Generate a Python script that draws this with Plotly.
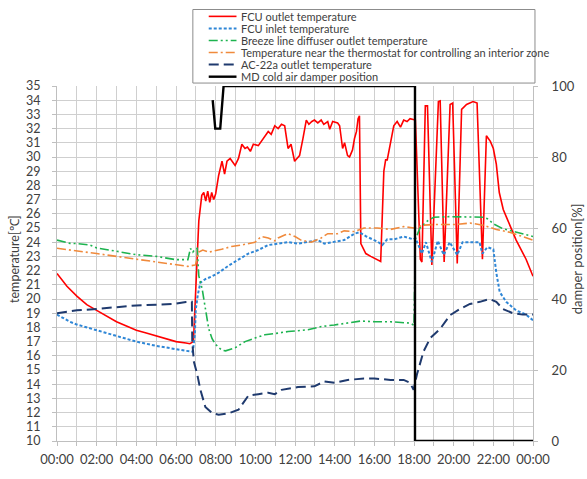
import plotly.graph_objects as go

# ---------------- data (hours since 00:00) ----------------
fcu_out_t = [0.0, 0.5, 1.0, 1.5, 2.0, 2.5, 3.0, 3.5, 4.0, 4.5, 5.0, 5.5, 6.0, 6.5, 6.7, 6.88,
             7.0, 7.15, 7.3, 7.4, 7.5, 7.6, 7.7, 7.8, 7.9, 8.0, 8.15, 8.32, 8.45, 8.57, 8.73,
             8.9, 8.98, 9.15, 9.32, 9.48, 9.6, 9.75, 9.9, 10.15, 10.3, 10.48, 10.65, 10.8,
             10.98, 11.15, 11.32, 11.48, 11.55, 11.65, 11.8, 11.98, 12.1, 12.23, 12.4, 12.57,
             12.7, 12.85, 12.98, 13.15, 13.32, 13.45, 13.65, 13.75, 13.9, 14.15, 14.25, 14.4,
             14.5, 14.65, 14.75, 14.9, 15.0, 15.1, 15.18, 15.25, 15.32, 15.57, 15.82, 16.07,
             16.32, 16.48, 16.57, 16.65, 16.82, 16.98, 17.15, 17.32, 17.48, 17.65, 17.8, 17.98,
             18.07, 18.32, 18.4, 18.57, 18.68, 18.9, 19.23, 19.32, 19.52, 19.82, 19.95, 20.18,
             20.4, 20.65, 20.98, 21.18, 21.45, 21.65, 21.85, 22.0, 22.15, 22.3, 22.5, 22.65,
             23.15, 23.65, 24.0]
fcu_out_v = [21.8, 20.9, 20.2, 19.6, 19.2, 18.8, 18.4, 18.1, 17.8, 17.6, 17.4, 17.2, 17.0, 16.9, 16.85, 17.0,
             21.0, 25.5, 27.3, 27.5, 26.9, 27.6, 26.8, 27.5, 27.0, 27.4, 28.7, 29.7, 28.8, 29.7, 29.9,
             29.6, 29.4, 29.9, 30.9, 30.6, 30.7, 30.4, 30.9, 30.8, 31.1, 31.4, 31.8, 31.6,
             32.2, 32.0, 32.3, 32.2, 31.5, 30.6, 30.9, 29.7, 29.9, 30.1, 31.3, 32.6,
             32.3, 32.5, 32.6, 32.4, 32.6, 32.3, 32.5, 31.95, 32.5, 32.4, 32.2, 30.6,
             31.0, 30.1, 30.0, 30.5, 31.3, 31.8, 32.7, 32.9, 23.9, 23.2, 23.0, 22.8,
             22.65, 29.0, 29.8, 29.8, 31.05, 32.2, 32.5, 32.1, 32.6, 32.5, 32.7, 32.6,
             32.6, 22.8, 22.6, 33.6, 33.6, 22.4, 33.9, 33.95, 22.6, 33.7, 33.8, 22.5,
             33.35, 33.7, 33.9, 33.8, 22.8, 31.5, 31.1, 30.6, 29.5, 27.5, 26.3, 25.8,
             24.15, 22.8, 21.6]

fcu_in_t = [0.0, 0.65, 1.0, 2.0, 3.0, 4.0, 5.0, 6.0, 6.5, 6.85, 6.95, 7.0, 7.1, 7.23, 7.48, 7.82,
            8.15, 8.65, 9.15, 9.65, 10.15, 10.65, 11.15, 11.65, 12.15, 12.65, 13.15, 13.48,
            13.98, 14.48, 15.0, 15.25, 15.6, 16.15, 16.4, 16.65, 17.0, 17.48, 17.98, 18.07,
            18.4, 18.6, 18.9, 19.2, 19.5, 19.8, 20.18, 20.45, 21.0, 21.3, 21.45, 21.7, 22.0,
            22.15, 22.32, 22.65, 23.15, 23.65, 24.0]
fcu_in_v = [18.9, 18.4, 18.2, 17.8, 17.4, 17.0, 16.7, 16.45, 16.35, 16.3, 17.5, 19.3, 20.3, 21.15, 21.4, 21.6,
            21.85, 22.35, 22.8, 23.2, 23.45, 23.8, 23.9, 24.0, 23.9, 24.0, 24.15, 23.9,
            24.0, 24.15, 24.6, 24.7, 24.4, 24.05, 23.8, 24.2, 24.2, 24.4, 24.2, 24.3,
            23.2, 24.0, 22.6, 24.1, 23.1, 24.0, 23.1, 24.0, 24.0, 24.0, 23.2, 23.65, 23.5,
            21.85, 20.5, 19.8, 19.2, 18.9, 18.5]

breeze_t = [0.0, 0.65, 1.0, 1.65, 2.0, 3.0, 4.0, 5.0, 6.0, 6.6, 6.73, 6.85, 6.95, 7.07, 7.15,
            7.32, 7.48, 7.65, 7.82, 8.0, 8.3, 8.5, 8.98, 9.48, 9.98, 10.48, 11.15, 11.65, 12.65,
            13.32, 13.98, 14.65, 15.32, 16.0, 16.8, 17.8, 18.0, 18.07, 18.3, 18.68, 19.0, 19.8,
            20.65, 21.48, 21.7, 22.0, 22.48, 23.15, 24.0]
breeze_v = [24.15, 23.92, 23.9, 23.8, 23.6, 23.35, 23.12, 23.0, 22.77, 22.77, 23.57, 23.3, 23.5, 23.57, 21.62,
            20.7, 19.3, 17.9, 17.2, 16.8, 16.4, 16.35, 16.56, 17.0, 17.25, 17.48, 17.6, 17.71, 17.83,
            18.06, 18.17, 18.29, 18.45, 18.4, 18.4, 18.3, 18.15, 24.2, 25.0, 25.5, 25.76, 25.8,
            25.76, 25.76, 25.65, 25.3, 24.95, 24.7, 24.4]

thermo_t = [0.0, 1.0, 2.0, 3.0, 4.0, 5.0, 6.0, 6.6, 6.98, 7.15, 7.35, 7.65, 8.3, 8.8, 9.3, 9.98,
            10.3, 10.65, 10.98, 11.15, 11.48, 11.65, 12.0, 12.3, 12.82, 13.32, 13.65, 14.15,
            14.48, 14.98, 15.48, 16.15, 16.82, 17.48, 17.98, 18.48, 19.15, 20.15, 20.82, 21.48,
            22.15, 22.82, 23.48, 24.0]
thermo_v = [23.57, 23.4, 23.2, 23.0, 22.8, 22.65, 22.4, 22.3, 22.4, 23.3, 23.45, 23.3, 23.5, 23.7, 23.8, 24.0,
            24.4, 24.3, 24.1, 24.3, 24.5, 24.6, 24.4, 24.15, 24.0, 24.3, 24.6, 24.6,
            24.8, 24.75, 25.0, 25.0, 24.9, 25.1, 25.0, 25.2, 25.25, 25.25, 25.35, 25.2,
            24.9, 24.7, 24.4, 24.15]

ac_t = [0.0, 0.65, 1.0, 2.0, 3.0, 4.0, 5.0, 6.0, 6.5, 6.8, 6.82, 6.9, 7.07, 7.23, 7.48, 7.82,
        8.15, 8.65, 9.15, 9.4, 9.65, 10.15, 10.65, 10.98, 11.32, 12.15, 12.98, 13.48, 14.0,
        14.65, 15.48, 16.0, 16.82, 17.48, 17.8, 17.98, 18.15, 18.48, 18.82, 19.32, 19.82,
        20.32, 20.82, 21.32, 21.82, 22.15, 22.48, 22.98, 23.48, 24.0]
ac_v = [19.0, 19.1, 19.2, 19.3, 19.45, 19.55, 19.6, 19.67, 19.78, 19.8, 17.0, 15.6, 14.7, 13.6, 12.4, 11.97,
        11.85, 11.95, 12.2, 12.7, 13.2, 13.3, 13.4, 13.3, 13.6, 13.8, 13.85, 14.2, 14.1,
        14.3, 14.4, 14.4, 14.3, 14.3, 14.1, 13.6, 14.7, 16.3, 17.25, 17.9, 18.86,
        19.3, 19.65, 19.8, 20.0, 19.8, 19.3, 19.0, 18.9, 18.9]

damper_t = [7.85, 7.98, 8.23, 8.4, 18.05, 18.05, 24.0]
damper_v = [96, 88, 88, 100, 100, 0, 0]

hour_ticks = list(range(0, 25))
hour_labels = ["00:00" if h in (0, 24) else (f"{h:02d}:00" if h % 2 == 0 else "") for h in hour_ticks]
temp_ticks = list(range(10, 36))
damper_ticks = [0, 20, 40, 60, 80, 100]

series_names = ["FCU outlet temperature", "FCU inlet temperature",
                "Breeze line diffuser outlet temperature",
                "Temperature near the thermostat for controlling an interior zone",
                "AC-22a outlet temperature", "MD cold air damper position"]

# ---------------- styles ----------------
styles = [
    dict(color="#FF0000", width=1.6, dash="solid"),
    dict(color="#2E86D6", width=2.0, dash="3px,2px"),
    dict(color="#1DB34F", width=1.6, dash="9px,3px,2px,3px,2px,3px"),
    dict(color="#F08A3C", width=1.6, dash="9px,3px,2px,3px"),
    dict(color="#1F3A6E", width=2.0, dash="10px,5px"),
    dict(color="#000000", width=2.4, dash="solid"),
]

W, H = 587, 479
L, R, T, B = 57, 50, 86, 31
PW, PH = W - L - R, H - T - B


def px(x):
    return (x - L) / PW


def py(y):
    return (H - B - y) / PH


fig = go.Figure()
data = [(fcu_out_t, fcu_out_v), (fcu_in_t, fcu_in_v), (breeze_t, breeze_v),
        (thermo_t, thermo_v), (ac_t, ac_v)]
for (xs, ys), name, st in zip(data, series_names[:5], styles[:5]):
    fig.add_trace(go.Scatter(x=xs, y=ys, mode="lines", name=name, line=st,
                             showlegend=False, yaxis="y"))
fig.add_trace(go.Scatter(x=damper_t, y=damper_v, mode="lines", name=series_names[5],
                         line=styles[5], showlegend=False, yaxis="y2"))

font_fam = "Lato, Carlito, 'Liberation Sans', sans-serif"
tick_font = dict(family=font_fam, size=12.5, color="#404040")

fig.update_layout(
    width=W, height=H,
    margin=dict(l=L, r=R, t=T, b=B, pad=0),
    paper_bgcolor="white", plot_bgcolor="white",
    xaxis=dict(range=[0, 24], tickvals=hour_ticks, ticktext=hour_labels,
               showgrid=True, gridcolor="#CFCFCF", gridwidth=1,
               showline=True, linecolor="#BFBFBF", linewidth=1,
               ticks="outside", ticklen=4, tickcolor="#BFBFBF",
               tickfont=dict(family=font_fam, size=13, color="#404040"),
               zeroline=False, fixedrange=True, ticklabelstandoff=2),
    yaxis=dict(range=[10, 35], tickvals=temp_ticks, showgrid=True,
               gridcolor="#CFCFCF", gridwidth=1, showline=True,
               linecolor="#BFBFBF", linewidth=1, ticks="outside", ticklen=4,
               tickcolor="#BFBFBF", tickfont=tick_font, zeroline=False,
               ticklabelstandoff=9),
    yaxis2=dict(range=[0, 100], tickvals=damper_ticks, overlaying="y", side="right",
                showgrid=False, showline=True, linecolor="#BFBFBF", linewidth=1,
                ticks="outside", ticklen=4, tickcolor="#BFBFBF",
                tickfont=dict(family=font_fam, size=13, color="#404040"),
                zeroline=False, ticklabelstandoff=11),
    showlegend=False,
)

# axis titles
fig.add_annotation(x=px(14), y=py(262), xref="paper", yref="paper", text="temperature[℃]",
                   textangle=-90, showarrow=False, xanchor="center", yanchor="middle",
                   font=dict(family=font_fam, size=12.5, color="#404040"))
fig.add_annotation(x=px(581), y=py(262), xref="paper", yref="paper", text="damper position[%]",
                   textangle=-90, showarrow=False, xanchor="center", yanchor="middle",
                   font=dict(family=font_fam, size=13, color="#404040"))

# custom legend box
fig.add_shape(type="rect", xref="paper", yref="paper", x0=px(194), x1=px(539),
              y0=py(83), y1=py(8), line=dict(color="#8C8C8C", width=1), fillcolor="white",
              layer="above")
for i, (name, st) in enumerate(zip(series_names, styles)):
    yy = 15 + 12.3 * i
    fig.add_shape(type="line", xref="paper", yref="paper", x0=px(210), x1=px(238),
                  y0=py(yy), y1=py(yy), layer="above",
                  line=dict(color=st["color"], width=st["width"], dash=st["dash"]))
    fig.add_annotation(x=px(241), y=py(yy), xref="paper", yref="paper", text=name,
                       showarrow=False, xanchor="left", yanchor="middle",
                       font=dict(family=font_fam, size=11, color="#404040"))

fig.write_html("out.html")
